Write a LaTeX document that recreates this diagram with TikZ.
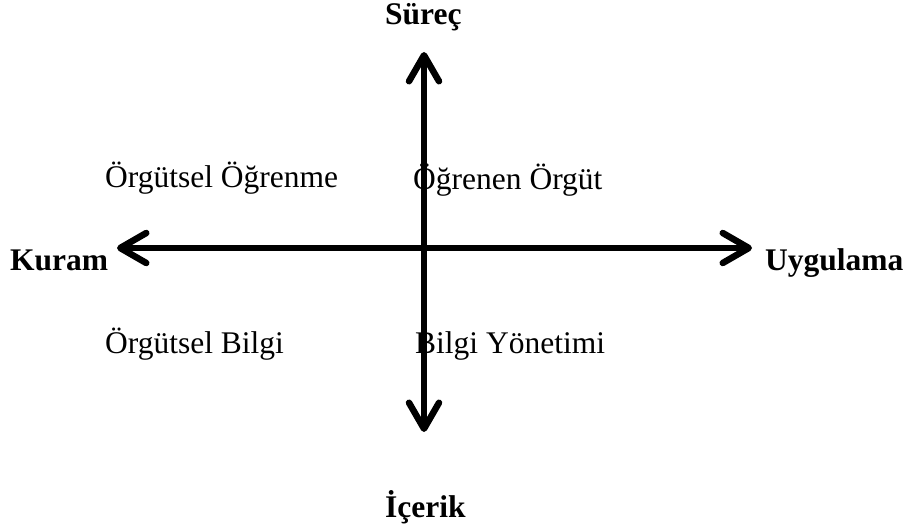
\documentclass[tikz,border=0pt]{standalone}
\usepackage{fontspec}
\setmainfont{Liberation Serif}
\usetikzlibrary{arrows.meta}
\tikzset{
  lbl/.style={inner sep=0pt, anchor=base west, font=\fontsize{31.5}{36}\selectfont},
  axlbl/.style={lbl, font=\fontsize{31.5}{36}\selectfont\bfseries},
  axis/.style={line width=6.5pt, line cap=round,
    {Straight Barb[length=26pt,width=30pt,line cap=round,line join=round]}-{Straight Barb[length=26pt,width=30pt,line cap=round,line join=round]}}
}
\begin{document}
\begin{tikzpicture}[x=1pt,y=-1pt]
\useasboundingbox (0,0) rectangle (907,529);
\node[axlbl] (sur) at (385,25) {Süreç};
\node[axlbl] (ice) at (385,517) {İçerik};
\node[axlbl] (kur) at (10,270) {Kuram};
\node[axlbl] (uyg) at (765,270) {Uygulama};
\node[lbl] (oo) at (105,188) {Örgütsel Öğrenme};
\node[lbl] (og) at (413,190) {Öğrenen Örgüt};
\node[lbl] (ob) at (105,353) {Örgütsel Bilgi};
\node[lbl] (by) at (415,353) {Bilgi Yönetimi};
\coordinate (L) at (117,248);
\coordinate (R) at (752,248);
\coordinate (T) at (424,52);
\coordinate (B) at (424,432);
\draw[axis] (L) -- (R);
\draw[axis] (T) -- (B);
\end{tikzpicture}
\end{document}
